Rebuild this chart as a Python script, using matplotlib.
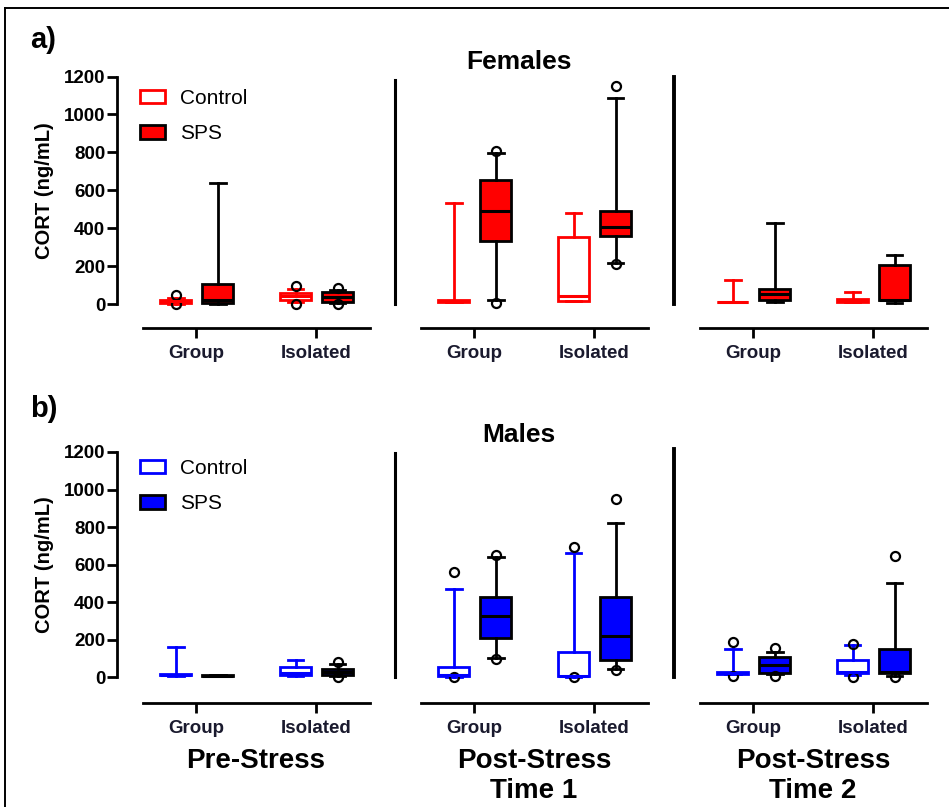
import matplotlib
matplotlib.use("Agg")
import matplotlib.pyplot as plt
from matplotlib.patches import Patch
from matplotlib.lines import Line2D
from matplotlib.transforms import blended_transform_factory

plt.rcParams["font.family"] = ["Liberation Sans", "DejaVu Sans"]

GROUPS = ["Group", "Isolated"]
PERIODS = ["Pre-Stress", "Post-Stress\nTime 1", "Post-Stress\nTime 2"]

# box stats per period, per housing group: (whislo, q1, med, q3, whishi)
F_CTRL = [[(3, 8, 15, 22, 35), (12, 20, 42, 62, 78)],
          [(10, 12, 15, 22, 535), (15, 18, 42, 355, 482)],
          [(10, 11, 12, 14, 127), (10, 12, 20, 30, 65)]]
F_CTRL_OUT = [[[50, 0], [95, 0]], [[], []], [[], []]]
F_SPS = [[(2, 8, 25, 105, 640), (8, 12, 40, 63, 75)],
         [(20, 332, 490, 654, 795), (218, 358, 408, 492, 1088)],
         [(12, 21, 56, 79, 429), (7, 21, 25, 205, 258)]]
F_SPS_OUT = [[[], [85, 0]], [[805, 8], [1150, 210]], [[], []]]

M_CTRL = [[(8, 10, 12, 15, 162), (8, 11, 20, 55, 91)],
          [(2, 5, 10, 55, 468), (3, 5, 6, 135, 660)],
          [(15, 18, 20, 25, 148), (10, 23, 25, 91, 170)]]
M_CTRL_OUT = [[[], []], [[562, 0], [695, 0]], [[185, 5], [176, 0]]]
M_SPS = [[(5, 6, 8, 10, 12), (8, 11, 25, 41, 70)],
         [(100, 206, 325, 428, 640), (45, 91, 220, 428, 820)],
         [(18, 23, 64, 105, 135), (8, 20, 25, 148, 503)]]
M_SPS_OUT = [[[], [80, 0]], [[650, 95], [948, 40]], [[155, 5], [645, 2]]]

RED = "#ff0000"
BLUE = "#0000ff"

W, H = 949, 807
fig = plt.figure(figsize=(W / 100, H / 100), dpi=100)


def px_box(left, top, right, bottom):
    return [left / W, 1 - bottom / H, (right - left) / W, (bottom - top) / H]


def draw_box(ax, vals, out, pos, face, edge, line):
    lo, q1, med, q3, hi = vals
    st = dict(whislo=lo, q1=q1, med=med, q3=q3, whishi=hi, fliers=out)
    ax.bxp([st], positions=[pos], widths=0.26, patch_artist=True,
           manage_ticks=False,
           boxprops=dict(facecolor=face, edgecolor=edge, linewidth=2.0),
           medianprops=dict(color=line, linewidth=2.2),
           whiskerprops=dict(color=line, linewidth=2.0),
           capprops=dict(color=line, linewidth=2.0),
           flierprops=dict(marker="o", markerfacecolor="none",
                           markeredgecolor="black", markersize=6.5,
                           markeredgewidth=1.6))


rows = [
    dict(ctrl=F_CTRL, ctrl_out=F_CTRL_OUT, sps=F_SPS, sps_out=F_SPS_OUT,
         col=RED, top=76.5, bot=328, ylo=-125, title="Females", ty=62,
         tag="a)", tagy=40, sep=[1180, 1200], legy=89),
    dict(ctrl=M_CTRL, ctrl_out=M_CTRL_OUT, sps=M_SPS, sps_out=M_SPS_OUT,
         col=BLUE, top=452, bot=703, ylo=-138, title="Males", ty=435,
         tag="b)", tagy=409, sep=[1195, 1215], legy=459),
]
lefts = [117, 395, 674]

for r, row in enumerate(rows):
    col = row["col"]
    for s in range(3):
        ax = fig.add_axes(px_box(lefts[s], row["top"], lefts[s] + 259, row["bot"]))
        ax.set_xlim(-0.66, 1.5)
        ax.set_ylim(row["ylo"], 1200)
        ax.patch.set_alpha(0)
        for g in range(2):
            draw_box(ax, row["ctrl"][s][g], row["ctrl_out"][s][g], g - 0.17,
                     "white", col, col)
            draw_box(ax, row["sps"][s][g], row["sps_out"][s][g], g + 0.18,
                     col, "black", "black")

        ax.spines["top"].set_visible(False)
        ax.spines["right"].set_visible(False)
        ax.spines["bottom"].set_bounds(-0.44, 1.45)
        ax.spines["bottom"].set_linewidth(2.0)
        ax.set_xticks([0, 1])
        ax.set_xticklabels(GROUPS)
        ax.tick_params(axis="x", length=7, width=2.0, pad=5, labelsize=13.5)
        for t in ax.get_xticklabels():
            t.set_fontweight("bold")
            t.set_color("#1a1a2e")

        if s == 0:
            ax.spines["left"].set_bounds(0, 1200)
            ax.spines["left"].set_linewidth(2.0)
            ax.set_yticks(range(0, 1201, 200))
            ax.tick_params(axis="y", length=7, width=2.0, pad=1.5, labelsize=13.5)
            for t in ax.get_yticklabels():
                t.set_fontweight("bold")
            ax.set_ylabel("CORT (ng/mL)", fontsize=14.5, fontweight="bold")
            ax.yaxis.set_label_coords(-0.243, (600 - row["ylo"]) / (1200 - row["ylo"]))
            handles = [Patch(facecolor="white", edgecolor=col, linewidth=2.0),
                       Patch(facecolor=col, edgecolor="black", linewidth=2.0)]
            ax.legend(handles, ["Control", "SPS"], loc="upper left",
                      bbox_to_anchor=(140 / W, 1 - row["legy"] / H),
                      bbox_transform=fig.transFigure, frameon=False,
                      fontsize=15, borderpad=0, borderaxespad=0,
                      handlelength=1.2, handleheight=0.6, handletextpad=0.7,
                      labelspacing=0.78)
        else:
            ax.spines["left"].set_bounds(0, row["sep"][s - 1])
            ax.spines["left"].set_linewidth(2.2 if s == 1 else 2.8)
            ax.set_yticks([])

        if r == 1:
            tr = blended_transform_factory(ax.transData, fig.transFigure)
            ax.text(0.5, 1 - 748 / H, PERIODS[s], transform=tr, ha="center",
                    va="top", fontsize=20, fontweight="bold", linespacing=1.2)

    fig.text(519 / W, 1 - row["ty"] / H, row["title"], ha="center", va="center",
             fontsize=19, fontweight="bold")
    fig.text(30 / W, 1 - row["tagy"] / H, row["tag"], ha="left", va="center",
             fontsize=21, fontweight="bold")

# frame around the figure
fig.add_artist(Line2D([5 / W, 5 / W], [0, 1 - 8 / H], color="black", lw=1.4,
                      transform=fig.transFigure))
fig.add_artist(Line2D([5 / W, 1], [1 - 8 / H, 1 - 8 / H], color="black", lw=1.4,
                      transform=fig.transFigure))

fig.savefig("out.png", dpi=100)
